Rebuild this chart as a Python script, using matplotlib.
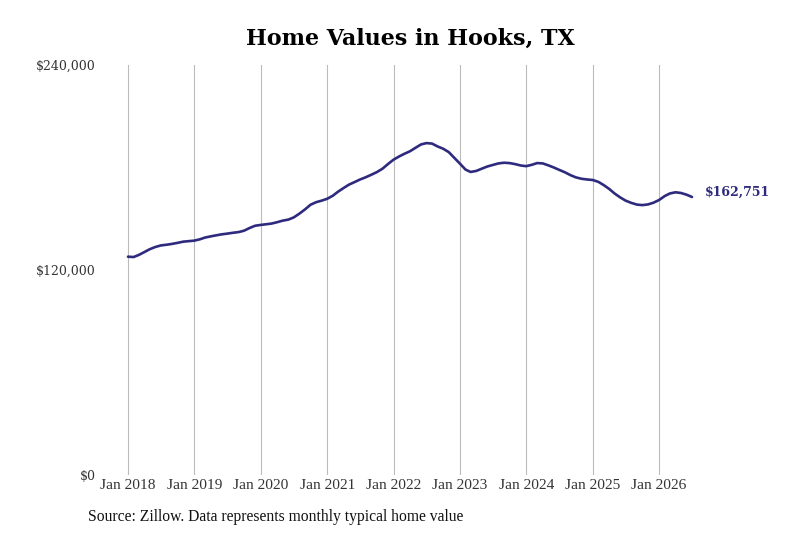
import matplotlib
matplotlib.use("Agg")
import matplotlib.pyplot as plt
import pandas as pd
from matplotlib.ticker import FuncFormatter

# Monthly typical home value (Jan 2018 - Jul 2026), in thousands of dollars
values_k = [
    127.8, 127.6, 128.8, 130.5, 132.2, 133.5, 134.4, 134.8, 135.3, 135.9, 136.6, 136.9,
    137.2, 138.0, 139.0, 139.7, 140.3, 140.9, 141.3, 141.8, 142.2, 143.0, 144.6, 145.9,
    146.4, 146.8, 147.2, 148.0, 148.9, 149.5, 150.8, 153.0, 155.5, 158.2, 159.7, 160.6,
    161.7, 163.5, 165.8, 168.0, 170.0, 171.5, 173.0, 174.3, 175.8, 177.3, 179.3, 182.0,
    184.6, 186.5, 188.0, 189.5, 191.5, 193.5, 194.3, 194.0, 192.3, 191.0, 189.0, 185.7,
    182.3, 178.8, 177.4, 178.0, 179.3, 180.6, 181.5, 182.4, 182.8, 182.6, 182.0, 181.2,
    180.8, 181.6, 182.6, 182.4, 181.3, 180.0, 178.6, 177.2, 175.5, 174.2, 173.4, 173.0,
    172.7, 171.6, 169.8, 167.5, 164.8, 162.5, 160.6, 159.3, 158.3, 158.0, 158.4, 159.4,
    161.0, 163.3, 164.8, 165.5, 165.1, 164.1, 162.751,
]
values = [v * 1000 for v in values_k]
dates = pd.date_range("2018-01-01", periods=len(values), freq="MS")

tick_years = list(range(2018, 2027))
tick_labels = [f"Jan {y}" for y in tick_years]
y_ticks = [0, 120000, 240000]

title = "Home Values in Hooks, TX"
source = "Source: Zillow. Data represents monthly typical home value"
line_color = "#2e2a7e"

narrow_serif = ["Liberation Serif", "DejaVu Serif"]

fig = plt.figure(figsize=(8, 5.33), dpi=100)
ax = fig.add_axes([0.125, 0.1088, 0.75, 0.7692])

ax.plot(dates, values, color=line_color, lw=1.9, solid_capstyle="round")

ax.set_ylim(0, 240000)
ax.set_xlim(pd.Timestamp("2017-07-31"), pd.Timestamp("2026-08-14"))

ax.set_yticks(y_ticks)
ax.yaxis.set_major_formatter(FuncFormatter(lambda v, p: f"${v:,.0f}"))
tick_dates = [pd.Timestamp(f"{y}-01-01") for y in tick_years]
ax.set_xticks(tick_dates)
ax.set_xticklabels(tick_labels)

for s in ax.spines.values():
    s.set_visible(False)
ax.tick_params(axis="both", length=0)
ax.tick_params(axis="y", pad=3)
ax.tick_params(axis="x", pad=3)
for lab in ax.get_yticklabels():
    lab.set_fontfamily("DejaVu Serif")
    lab.set_fontsize(9)
    lab.set_color("#333333")
for lab in ax.get_xticklabels():
    lab.set_fontfamily(narrow_serif)
    lab.set_fontsize(11.1)
    lab.set_color("#333333")

ax.grid(axis="x", color="#bbbbbb", lw=0.8)
ax.grid(axis="y", visible=False)

ax.annotate(f"${values[-1]:,.0f}", xy=(dates[-1], values[-1]), xytext=(9, 3.5),
            textcoords="offset points", va="center", ha="left",
            fontfamily="DejaVu Serif", fontweight="bold", fontsize=9, color=line_color)

fig.text(0.5125, 0.927, title, ha="center", va="center",
         fontfamily="DejaVu Serif", fontweight="bold", fontsize=15.9)
fig.text(0.11, 0.030, source, ha="left", va="center",
         fontfamily=narrow_serif, fontsize=11.25, color="#111111")

fig.savefig("out.png", dpi=100)
